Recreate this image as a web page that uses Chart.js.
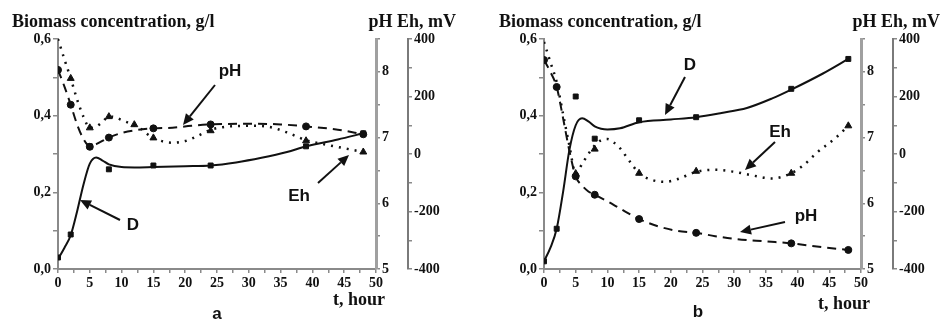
<!DOCTYPE html>
<html>
<head>
<meta charset="utf-8">
<script src="https://cdn.jsdelivr.net/npm/chart.js@4.4.1/dist/chart.umd.min.js"></script>
<style>
    body { margin: 0; background: #fff; }
    #wrap { position: relative; width: 941px; height: 321px; }
    #chartA { position: absolute; left: 0; top: 0; }
    #chartB { position: absolute; left: 470px; top: 0; }
</style>
</head>
<body>
<div id="wrap">
    <canvas id="chartA" width="470" height="321"></canvas>
    <canvas id="chartB" width="471" height="321"></canvas>
</div>
<script>
// ---- panel a: measured points ----
var hoursA = [0, 2, 5, 8, 15, 24, 39, 48];
var biomassA = [0.03, 0.09, 0.32, 0.26, 0.27, 0.27, 0.32, 0.354];
var phA = [8.03, 7.5, 6.86, 7.0, 7.14, 7.2, 7.17, 7.05];
var ehHoursA = [2, 5, 8, 12, 15, 24, 39, 48];
var ehA = [263, 91, 130, 102, 56, 81, 46, 7];

// ---- panel a: fitted curves ----
var dCurveHoursA = [0, 1, 2, 3, 4, 5, 6, 7, 8, 10, 12, 15, 20, 24, 28, 32, 36, 39, 44, 48];
var dCurveA = [0.026, 0.055, 0.088, 0.15, 0.22, 0.275, 0.291, 0.283, 0.273, 0.266, 0.265, 0.266, 0.268, 0.27, 0.278, 0.29, 0.305, 0.32, 0.338, 0.354];
var phCurveHoursA = [0, 1, 2, 3, 4, 5, 6, 8, 10, 12, 15, 18, 21, 24, 30, 35, 39, 44, 48];
var phCurveA = [8.03, 7.78, 7.5, 7.2, 6.98, 6.87, 6.9, 7.0, 7.07, 7.11, 7.14, 7.15, 7.18, 7.2, 7.21, 7.2, 7.17, 7.12, 7.05];
var ehCurveHoursA = [0, 1, 2, 3, 4, 5, 6, 7, 8, 9, 10, 12, 13, 14, 15, 18, 20, 22, 24, 27, 30, 33, 36, 39, 42, 45, 48];
var ehCurveA = [400, 330, 263, 190, 130, 91, 95, 112, 130, 128, 118, 100, 88, 70, 56, 39, 45, 63, 84, 96, 98, 95, 75, 48, 33, 20, 7];

// ---- panel b: measured points ----
var hoursB = [0, 2, 5, 8, 15, 24, 39, 48];
var biomassB = [0.02, 0.105, 0.45, 0.34, 0.388, 0.396, 0.47, 0.548];
var phB = [8.18, 7.77, 6.41, 6.13, 5.76, 5.55, 5.39, 5.29];
var ehHoursB = [5, 8, 15, 24, 39, 48];
var ehB = [-68, 17, -67, -60, -67, 98];

// ---- panel b: fitted curves ----
var dCurveHoursB = [0, 1, 2, 3, 4, 5, 6, 7, 8, 9, 10, 12, 15, 20, 24, 28, 32, 36, 39, 44, 48];
var dCurveB = [0.02, 0.055, 0.105, 0.2, 0.31, 0.375, 0.393, 0.385, 0.372, 0.366, 0.364, 0.367, 0.383, 0.39, 0.396, 0.407, 0.42, 0.445, 0.468, 0.51, 0.548];
var phCurveHoursB = [0, 1, 2, 3, 4, 5, 6, 7, 8, 10, 12, 15, 18, 21, 24, 27, 30, 35, 39, 44, 48];
var phCurveB = [8.18, 8.0, 7.77, 7.3, 6.8, 6.41, 6.27, 6.18, 6.13, 6.03, 5.92, 5.76, 5.65, 5.58, 5.55, 5.5, 5.46, 5.42, 5.39, 5.33, 5.29];
var ehCurveHoursB = [0, 1, 2, 3, 4, 5, 6, 7, 8, 9, 10, 11, 12, 13, 14, 15, 17, 19, 21, 24, 27, 30, 33, 36, 39, 41, 43, 46, 48];
var ehCurveB = [390, 320, 250, 140, 30, -68, -35, 0, 30, 48, 52, 40, 20, -10, -40, -67, -90, -97, -88, -62, -55, -62, -75, -85, -67, -38, 4, 56, 98];

var INK = '#111';
var AXIS = '#8a8a8a';
var serifBold = { family: '"Liberation Serif", "Times New Roman", serif', weight: 'bold', size: 14 };

function pts(xs, ys) {
    return xs.map(function(x, i) { return { x: x, y: ys[i] }; });
}

// titles, arrows and curve labels
var panelText = {
    id: 'panelText',
    afterDraw: function(chart, args, o) {
        var ctx = chart.ctx;
        ctx.save();
        ctx.fillStyle = INK;
        ctx.strokeStyle = INK;
        ctx.font = 'bold 18px "Liberation Serif", serif';
        ctx.textBaseline = 'alphabetic';
        ctx.textAlign = 'left';
        ctx.fillText('Biomass concentration, g/l', o.titleX, 27);
        ctx.textAlign = 'right';
        ctx.fillText('pH Eh, mV', o.unitsRight, 27);
        ctx.textAlign = 'left';
        ctx.fillText('t, hour', o.hourX, o.hourY);

        ctx.font = 'bold 17px "Liberation Sans", Arial, sans-serif';
        ctx.textAlign = 'center';
        ctx.fillText(o.letter, o.letterX, o.letterY);

        ctx.textBaseline = 'middle';
        o.notes.forEach(function(n) {
            ctx.fillText(n.text, n.tx, n.ty);
            var ang = Math.atan2(n.y2 - n.y1, n.x2 - n.x1);
            var hl = 11, hw = 5;
            var bx = n.x2 - hl * Math.cos(ang), by = n.y2 - hl * Math.sin(ang);
            ctx.lineWidth = 2;
            ctx.beginPath();
            ctx.moveTo(n.x1, n.y1);
            ctx.lineTo(bx, by);
            ctx.stroke();
            ctx.beginPath();
            ctx.moveTo(n.x2, n.y2);
            ctx.lineTo(bx + hw * Math.sin(ang), by - hw * Math.cos(ang));
            ctx.lineTo(bx - hw * Math.sin(ang), by + hw * Math.cos(ang));
            ctx.closePath();
            ctx.fill();
        });
        ctx.restore();
    }
};

function makeConfig(p) {
    return {
        type: 'scatter',
        data: {
            datasets: [
                { data: pts(p.dCurveHours, p.dCurve), yAxisID: 'y', showLine: true, borderColor: INK, borderWidth: 2, pointRadius: 0, cubicInterpolationMode: 'monotone' },
                { data: pts(p.hours, p.biomass), yAxisID: 'y', showLine: false, pointStyle: 'rect', pointRadius: 3.5, backgroundColor: INK, borderColor: INK },
                { data: pts(p.phCurveHours, p.phCurve), yAxisID: 'yPH', showLine: true, borderColor: INK, borderWidth: 2, borderDash: [9, 6], pointRadius: 0, cubicInterpolationMode: 'monotone' },
                { data: pts(p.hours, p.ph), yAxisID: 'yPH', showLine: false, pointStyle: 'circle', pointRadius: 3.5, backgroundColor: INK, borderColor: INK },
                { data: pts(p.ehCurveHours, p.ehCurve), yAxisID: 'yEh', showLine: true, borderColor: INK, borderWidth: 2.5, borderDash: [2, 6], pointRadius: 0, cubicInterpolationMode: 'monotone' },
                { data: pts(p.ehHours, p.eh), yAxisID: 'yEh', showLine: false, pointStyle: 'triangle', pointRadius: 4, backgroundColor: INK, borderColor: INK }
            ]
        },
        options: {
            responsive: false,
            animation: false,
            layout: { padding: { left: 0, right: 0, top: 39, bottom: 0 } },
            plugins: {
                legend: { display: false },
                tooltip: { enabled: false },
                panelText: p.text
            },
            scales: {
                x: {
                    type: 'linear', position: 'bottom', min: 0, max: 50,
                    afterFit: function(s) { s.height = 52; },
                    border: { color: AXIS, width: 2 },
                    grid: { drawOnChartArea: false, tickLength: 4, color: AXIS, lineWidth: 1.5 },
                    ticks: {
                        stepSize: 2.5, autoSkip: false, maxRotation: 0, padding: 2, color: INK, font: serifBold,
                        callback: function(v) { return v % 5 === 0 ? String(v) : ''; }
                    }
                },
                y: {
                    position: 'left', min: 0, max: 0.6,
                    afterFit: function(s) { s.width = p.leftWidth; },
                    border: { color: AXIS, width: 2 },
                    grid: { drawOnChartArea: false, tickLength: 5, color: AXIS, lineWidth: 1.5 },
                    ticks: {
                        stepSize: 0.1, autoSkip: false, padding: 2, color: INK, font: serifBold,
                        callback: function(v) {
                            var r = Math.round(v * 10);
                            return r % 2 === 0 ? (r / 10).toFixed(1).replace('.', ',') : '';
                        }
                    }
                },
                yPH: {
                    position: 'right', weight: 0, min: 5, max: 8.5,
                    afterFit: function(s) { s.width = 32; },
                    border: { color: '#a0a0a0', width: 3 },
                    grid: { drawOnChartArea: false, tickLength: 4, color: AXIS, lineWidth: 1.5 },
                    ticks: {
                        stepSize: 0.5, autoSkip: false, padding: 2, color: INK, font: serifBold,
                        callback: function(v) { return Number.isInteger(v) ? String(v) : ''; }
                    }
                },
                yEh: {
                    position: 'right', weight: 1, min: -400, max: 400,
                    afterFit: function(s) { s.width = p.ehWidth; },
                    border: { color: '#7a7a7a', width: 2 },
                    grid: { drawOnChartArea: false, tickLength: 4, color: AXIS, lineWidth: 1.5 },
                    ticks: {
                        stepSize: 100, autoSkip: false, padding: 2, color: INK, font: serifBold,
                        callback: function(v) { return v % 200 === 0 ? String(v) : ''; }
                    }
                }
            }
        },
        plugins: [panelText]
    };
}

var panelA = {
    hours: hoursA, biomass: biomassA, ph: phA, ehHours: ehHoursA, eh: ehA,
    dCurveHours: dCurveHoursA, dCurve: dCurveA,
    phCurveHours: phCurveHoursA, phCurve: phCurveA,
    ehCurveHours: ehCurveHoursA, ehCurve: ehCurveA,
    leftWidth: 58, ehWidth: 62,
    text: {
        titleX: 12, unitsRight: 456, hourX: 333, hourY: 305, letter: 'a', letterX: 217, letterY: 319,
        notes: [
            { text: 'pH', tx: 230, ty: 71, x1: 215, y1: 85, x2: 183, y2: 125 },
            { text: 'D', tx: 133, ty: 225, x1: 120, y1: 220, x2: 80, y2: 200 },
            { text: 'Eh', tx: 299, ty: 196, x1: 318, y1: 183, x2: 349, y2: 155 }
        ]
    }
};

var panelB = {
    hours: hoursB, biomass: biomassB, ph: phB, ehHours: ehHoursB, eh: ehB,
    dCurveHours: dCurveHoursB, dCurve: dCurveB,
    phCurveHours: phCurveHoursB, phCurve: phCurveB,
    ehCurveHours: ehCurveHoursB, ehCurve: ehCurveB,
    leftWidth: 74, ehWidth: 48,
    text: {
        titleX: 29, unitsRight: 470, hourX: 348, hourY: 309, letter: 'b', letterX: 228, letterY: 317,
        notes: [
            { text: 'D', tx: 220, ty: 65, x1: 215, y1: 77, x2: 195, y2: 115 },
            { text: 'Eh', tx: 310, ty: 132, x1: 305, y1: 142, x2: 275, y2: 170 },
            { text: 'pH', tx: 336, ty: 216, x1: 315, y1: 222, x2: 270, y2: 232 }
        ]
    }
};

window.onload = function() {
    var ctxA = document.getElementById('chartA').getContext('2d');
    window.chartA = new Chart(ctxA, makeConfig(panelA));

    var ctxB = document.getElementById('chartB').getContext('2d');
    window.chartB = new Chart(ctxB, makeConfig(panelB));
};
</script>
</body>
</html>
